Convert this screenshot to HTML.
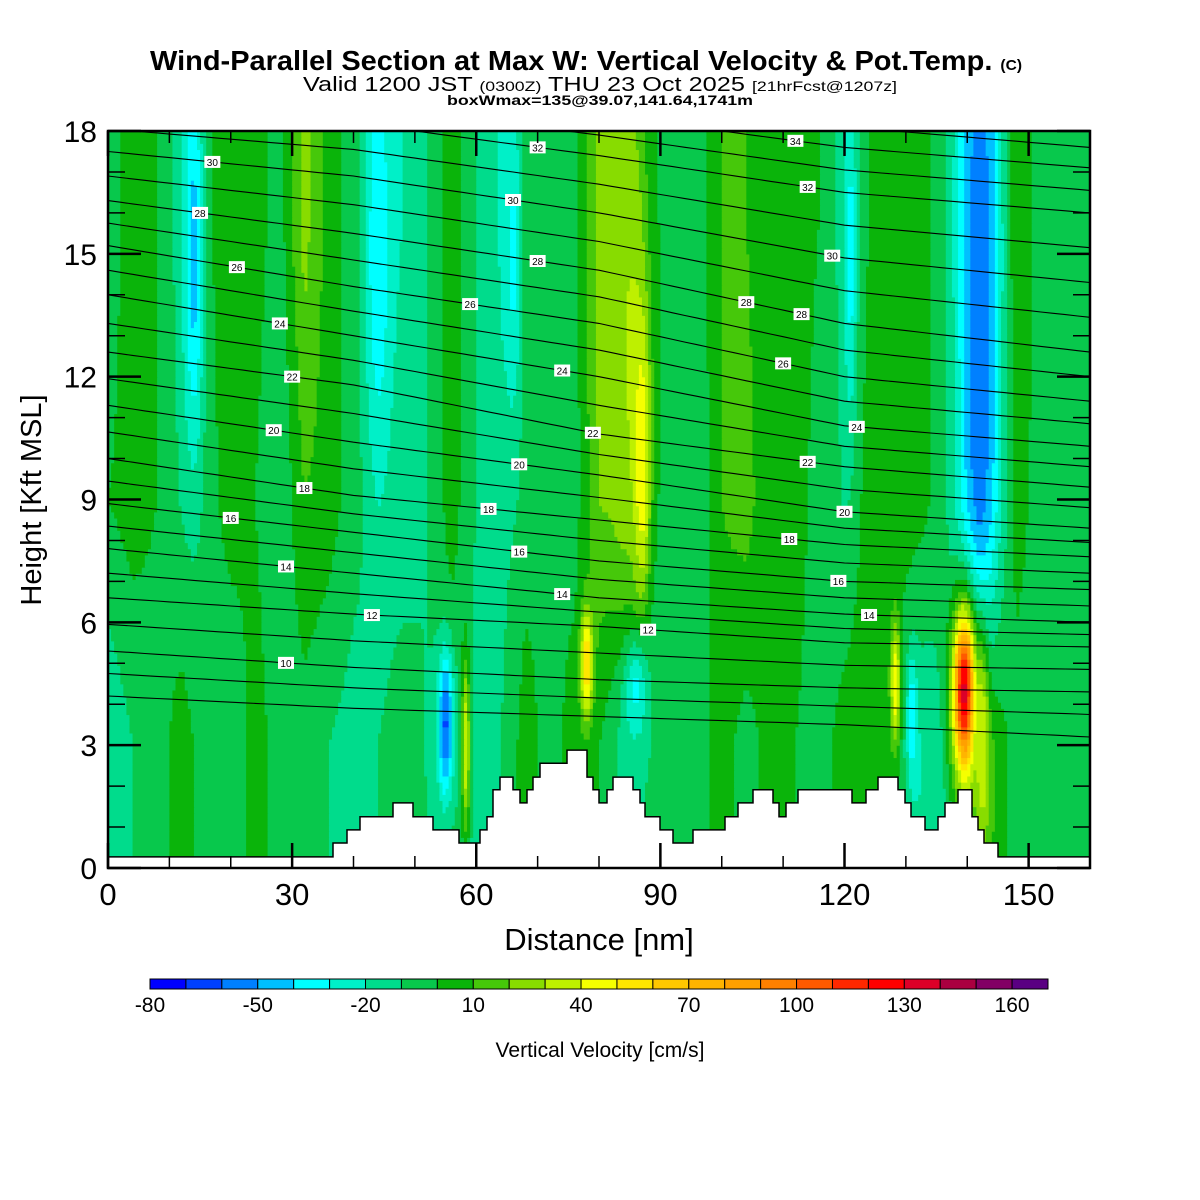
<!DOCTYPE html>
<html><head><meta charset="utf-8"><title>Wind-Parallel Section</title>
<style>
html,body{margin:0;padding:0;background:#fff;}
svg{display:block;font-family:"Liberation Sans",Arial,sans-serif;}
</style></head>
<body>
<svg id="chart" width="1200" height="1200" viewBox="0 0 1200 1200" xmlns="http://www.w3.org/2000/svg">
  <rect x="0" y="0" width="1200" height="1200" fill="#fff"/>
  <text x="150" y="70" font-size="28" font-weight="bold" textLength="872" lengthAdjust="spacingAndGlyphs">Wind-Parallel Section at Max W: Vertical Velocity &amp; Pot.Temp. <tspan font-size="15">(C)</tspan></text>
  <text x="303" y="91" font-size="20" textLength="594" lengthAdjust="spacingAndGlyphs">Valid 1200 JST <tspan font-size="14">(0300Z)</tspan> THU 23 Oct 2025 <tspan font-size="14">[21hrFcst@1207z]</tspan></text>
  <text x="447" y="105" font-size="14" font-weight="bold" textLength="306" lengthAdjust="spacingAndGlyphs">boxWmax=135@39.07,141.64,1741m</text>
  <defs><clipPath id="plotclip"><rect x="108" y="131" width="982" height="737"/></clipPath></defs>
  <g id="field" clip-path="url(#plotclip)"></g>
  <g id="contours" clip-path="url(#plotclip)"></g>
  <g id="terrain"></g>
  <g id="labels"></g>
  <g id="axes"></g>
  <g id="colorbar"></g>
  <text x="599" y="950" font-size="31" text-anchor="middle">Distance [nm]</text>
  <text x="0" y="0" font-size="29" text-anchor="middle" transform="translate(41,500) rotate(-90)">Height [Kft MSL]</text>
  <text x="600" y="1057" font-size="21" text-anchor="middle">Vertical Velocity [cm/s]</text>
</svg>
<script>
// ---- colour scale ----
const cbLevels = [-80,-70,-60,-50,-40,-30,-20,-10,0,10,20,30,40,50,60,70,80,90,100,110,120,130,140,150,160];
const cbColors = ["#0000ff","#0040ff","#0080ff","#00c0ff","#00ffff","#00f0c8","#00dc8c","#08c84c","#0ab40a","#46c80a","#88dc00","#bef000","#f5ff00","#ffe600","#ffc800","#ffb400","#ffa000","#ff8000","#ff5a00","#ff2800","#ff0000","#dc0028","#aa0040","#820064","#5a0082"];
const cbTickLabels = [-80,-50,-20,10,40,70,100,130,160];

// ---- vertical velocity base profiles (cm/s) at x = 0,4,...,160 nm ----
const profX = [0,4,8,12,16,20,24,28,32,36,40,44,48,52,56,60,64,68,72,76,80,84,88,92,96,100,104,108,112,116,120,124,128,132,136,140,144,148,152,156,160];
const wTop = [-10,10,0,-15,0,5,5,-5,25,5,-5,-20,-20,-10,5,-10,-20,0,0,-5,25,25,0,-5,-5,10,10,0,5,0,-15,0,5,5,-5,-35,-35,10,-5,-5,-5];
const wMid = [0,5,0,-10,-5,5,0,-10,10,5,-5,-15,-15,-10,5,-10,-15,-5,0,-5,20,20,-5,0,-10,10,15,0,5,-5,-10,5,5,5,-5,-35,-35,5,-5,-5,-5];
const wLow = [-20,-10,-5,5,-5,-10,5,-5,-5,-10,-15,-10,-5,-10,-5,-15,-10,5,-5,5,0,-15,-10,0,-5,5,-5,5,0,-5,5,5,0,-20,-15,10,10,-5,-5,-5,-5];
// ---- localized up/downdraft cores ----
const blobX  = [14, 44, 66, 85, 87, 121, 142, 142, 55, 55, 58.3, 78, 86, 128.3, 131, 139.5, 139.5, 142.5];
const blobH  = [15, 15, 15, 13, 10, 15, 16, 11, 3.5, 3.5, 3, 5, 4.3, 4.5, 3.7, 4.3, 4.3, 3];
const blobSX = [1.6, 2, 1.5, 3, 1.4, 1, 2.5, 2, 1.6, 0.9, 0.7, 1, 2, 0.8, 0.8, 2.2, 1.1, 1.1];
const blobSH = [5, 5, 4, 6, 3.5, 4, 4, 5, 2, 1.3, 2.2, 1.3, 1.3, 1.5, 1.5, 2.2, 1.3, 2.5];
const blobV  = [-45, -38, -33, 30, 50, -35, -55, -58, -38, -62, 40, 62, -32, 50, -40, 80, 135, 40];

// ---- terrain (kft) by segment ----
const terrX = [0,36.66,38.94,41.06,46.44,49.69,52.95,57.19,60.61,61.75,62.73,63.87,65.99,67.13,68.27,69.25,70.39,74.79,78.04,79.02,80.0,81.30,82.28,85.54,86.68,87.49,89.94,92.06,95.32,100.53,102.65,105.09,108.35,109.33,110.47,112.42,121.22,123.50,125.46,128.72,129.86,130.84,133.12,135.23,136.37,138.49,140.77,141.75,142.73,145.01,160];
const terrH = [0.27,0.61,0.93,1.25,1.59,1.25,0.93,0.61,0.93,1.25,1.91,2.22,1.91,1.59,1.91,2.22,2.56,2.88,2.22,1.91,1.59,1.91,2.22,1.91,1.59,1.25,0.93,0.61,0.93,1.25,1.59,1.91,1.59,1.25,1.59,1.91,1.59,1.91,2.22,1.91,1.59,1.25,0.93,1.25,1.59,1.91,1.25,0.93,0.61,0.27];

// ---- potential temperature contour anchors (height kft at x = 0,40,80,120,160) ----
const thetaAnchorX = [0,40,80,120,160];
const thetaLevels = [8,10,12,14,16,18,20,22,24,26,28,30,32,34,36];
const thetaH = [
 [4.2,3.9,3.7,3.5,3.2],
 [5.3,4.9,4.6,4.4,4.3],
 [6.6,6.2,5.9,5.5,5.4],
 [7.8,7.2,6.6,6.2,6.0],
 [8.9,8.2,7.5,7.0,6.8],
 [10.0,9.1,8.5,7.9,7.6],
 [11.3,10.4,9.6,8.7,8.3],
 [12.6,11.8,10.6,9.8,9.3],
 [14.0,13.0,12.0,10.8,10.3],
 [15.2,14.2,13.3,12.0,11.4],
 [16.3,15.5,14.6,13.3,12.6],
 [17.5,16.9,16.0,14.9,14.3],
 [18.6,18.2,17.4,16.5,16.0],
 [19.6,19.1,18.4,17.6,17.1],
 [20.6,20.0,19.4,18.6,18.1]];
const contourLabelLevel = [30,28,26,24,22,20,18,16,14,12,10,32,30,28,26,24,22,20,18,16,14,12,34,32,30,28,28,26,24,22,20,18,16,14];
const contourLabelX     = [17,15,21,28,30,27,32,20,29,43,29,70,66,70,59,74,79,67,62,67,74,88,112,114,118,104,113,110,122,114,120,111,119,124];

// ---- axes ----
const xMin=0,xMax=160,hMin=0,hMax=18;
const X0=108,X1=1090,Y0=868,Y1=131;
const xTicks=[0,30,60,90,120,150];
const yTicks=[0,3,6,9,12,15,18];
function sx(v){return X0+(v-xMin)/(xMax-xMin)*(X1-X0);}
function sy(v){return Y0-(v-hMin)/(hMax-hMin)*(Y0-Y1);}
const NS="http://www.w3.org/2000/svg";
function mk(tag,attrs,parent){const e=document.createElementNS(NS,tag);for(const k in attrs)e.setAttribute(k,attrs[k]);parent.appendChild(e);return e;}

function colorFor(v){let i=Math.floor((v-cbLevels[0])/10);if(i<0)i=0;if(i>=cbColors.length)i=cbColors.length-1;return cbColors[i];}
function interp(xs,ys,x){if(x<=xs[0])return ys[0];for(let i=1;i<xs.length;i++){if(x<=xs[i]){const t=(x-xs[i-1])/(xs[i]-xs[i-1]);return ys[i-1]+t*(ys[i]-ys[i-1]);}}return ys[ys.length-1];}
function wField(x,h){
  const a=interp(profX,wTop,x),b=interp(profX,wMid,x),c=interp(profX,wLow,x);
  let v;
  if(h>=16)v=a;else if(h>=9)v=b+(a-b)*(h-9)/7;else if(h>=3)v=c+(b-c)*(h-3)/6;else v=c;
  for(let i=0;i<blobX.length;i++){
    const dx=(x-blobX[i])/blobSX[i],dh=(h-blobH[i])/blobSH[i];
    const w=Math.exp(-(dx*dx+dh*dh));
    v=v*(1-w)+blobV[i]*w;
  }
  return v;
}

// field
const field=document.getElementById('field');
const dxn=0.5,dhn=0.15;
for(let h=0;h<hMax;h+=dhn){
  let runStart=0,runCol=null;
  for(let x=0;x<=xMax;x+=dxn){
    const col = x<xMax ? colorFor(wField(x+dxn/2,h+dhn/2)) : null;
    if(col!==runCol){
      if(runCol!==null){
        const r=mk('rect',{x:sx(runStart).toFixed(2),y:sy(h+dhn).toFixed(2),width:(sx(x)-sx(runStart)+0.6).toFixed(2),height:(sy(h)-sy(h+dhn)+0.6).toFixed(2),fill:runCol},field);
        
        
      }
      runStart=x;runCol=col;
    }
  }
}

// contours
const cg=document.getElementById('contours');
function thetaHeight(level,x){
  let i=0;while(i<thetaLevels.length-2&&thetaLevels[i+1]<level)i++;
  const t=(level-thetaLevels[i])/(thetaLevels[i+1]-thetaLevels[i]);
  const h0=interp(thetaAnchorX,thetaH[i],x),h1=interp(thetaAnchorX,thetaH[i+1],x);
  return h0+t*(h1-h0);
}
for(let L=8;L<=36;L+=1){
  let d='';
  for(let x=0;x<=160;x+=2){d+=(x===0?'M':'L')+sx(x).toFixed(1)+','+sy(thetaHeight(L,x)).toFixed(1);}
  const p=mk('path',{d:d,fill:'none',stroke:'#000','stroke-width':1.1},cg);
  
  
}

// terrain
const tg=document.getElementById('terrain');
let td='M'+sx(0)+','+sy(0);
for(let i=0;i<terrH.length;i++){td+='L'+sx(terrX[i]).toFixed(1)+','+sy(terrH[i]).toFixed(1)+'L'+sx(terrX[i+1]).toFixed(1)+','+sy(terrH[i]).toFixed(1);}
td+='L'+sx(160)+','+sy(0)+'Z';
const tp=mk('path',{d:td,fill:'#fff',stroke:'#000','stroke-width':1.5},tg);



// contour labels
const lg=document.getElementById('labels');
for(let i=0;i<contourLabelLevel.length;i++){
  const cx=sx(contourLabelX[i]),cy=sy(thetaHeight(contourLabelLevel[i],contourLabelX[i]));
  const r=mk('rect',{x:cx-8,y:cy-6,width:16,height:12,fill:'#fff'},lg);
  
  
  const t=mk('text',{x:cx,y:cy+4,'font-size':10,'text-anchor':'middle'},lg);
  t.textContent=contourLabelLevel[i];
  
  
}

// axes
const ag=document.getElementById('axes');
const frame=mk('rect',{x:X0,y:Y1,width:X1-X0,height:Y0-Y1,fill:'none',stroke:'#000','stroke-width':2.5},ag);


for(let v=0;v<=160;v+=10){
  const major=xTicks.indexOf(v)>=0,len=major?25:12,x=sx(v);
  const a=mk('line',{x1:x,x2:x,y1:Y0,y2:Y0-len,stroke:'#000','stroke-width':major?2.5:1.5},ag);
  
  
  const b=mk('line',{x1:x,x2:x,y1:Y1,y2:Y1+len,stroke:'#000','stroke-width':major?2.5:1.5},ag);
  
  
}
for(let v=0;v<=18;v+=1){
  const major=yTicks.indexOf(v)>=0,len=major?33:17,y=sy(v);
  const a=mk('line',{x1:X0,x2:X0+len,y1:y,y2:y,stroke:'#000','stroke-width':major?2.5:1.5},ag);
  
  
  const b=mk('line',{x1:X1,x2:X1-len,y1:y,y2:y,stroke:'#000','stroke-width':major?2.5:1.5},ag);
  
  
}
xTicks.forEach(v=>{
  const t=mk('text',{x:sx(v),y:905,'font-size':31,'text-anchor':'middle'},ag);
  t.textContent=v;
  
  
});
yTicks.forEach(v=>{
  const t=mk('text',{x:97,y:sy(v)+11,'font-size':30,'text-anchor':'end'},ag);
  t.textContent=v;
  
  
});

// colorbar
const cb=document.getElementById('colorbar');
const cbX0=150,cbW=898/cbColors.length;
cbColors.forEach((c,i)=>{
  const r=mk('rect',{x:cbX0+i*cbW,y:979,width:cbW,height:10,fill:c,stroke:'#000','stroke-width':1},cb);
  
  
});
cbTickLabels.forEach(v=>{
  const i=cbLevels.indexOf(v);
  const t=mk('text',{x:cbX0+i*cbW,y:1012,'font-size':21,'text-anchor':'middle'},cb);
  t.textContent=v;
  
  
});
</script>
</body></html>
